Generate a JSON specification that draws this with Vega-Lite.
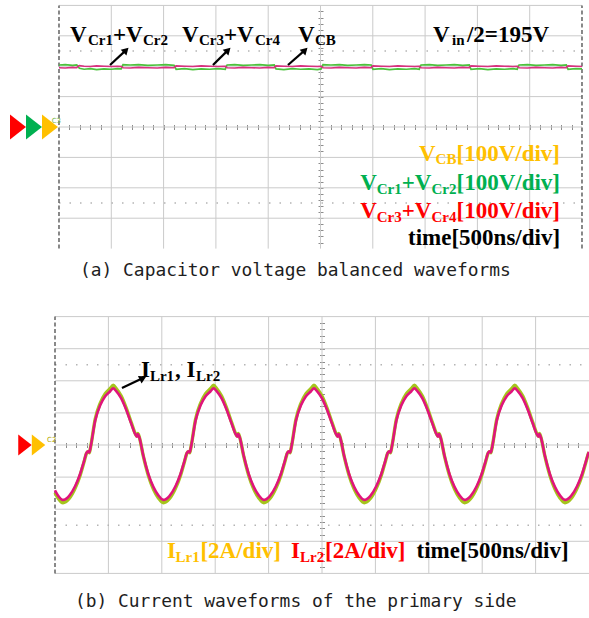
{
"$schema": "https://vega.github.io/schema/vega-lite/v6.json",
"padding": 0,
"spacing": 0,
"bounds": "flush",
"background": "white",
"config": {"view": {"stroke": null}},
"datasets": {
"traceA": [
{"t":0,"vg":204,"vp":195},{"t":60,"vg":205,"vp":194},{"t":130,"vg":203,"vp":196},{"t":170,"vg":204,"vp":195},{"t":182,"vg":199,"vp":200},{"t":195,"vg":193,"vp":202},{"t":240,"vg":190,"vp":200},{"t":300,"vg":192,"vp":199},{"t":360,"vg":189,"vp":201},{"t":430,"vg":191,"vp":200},{"t":500,"vg":190,"vp":199},{"t":560,"vg":192,"vp":200},{"t":595,"vg":191,"vp":199},{"t":602,"vg":198,"vp":198},{"t":612,"vg":205,"vp":195},{"t":680,"vg":204,"vp":194},{"t":760,"vg":205,"vp":196},{"t":850,"vg":203,"vp":195},{"t":940,"vg":204,"vp":194},{"t":1020,"vg":205,"vp":196},{"t":1100,"vg":203,"vp":195},{"t":1109,"vg":197,"vp":199},{"t":1120,"vg":190,"vp":201},{"t":1200,"vg":192,"vp":200},{"t":1280,"vg":189,"vp":199},{"t":1360,"vg":191,"vp":201},{"t":1440,"vg":190,"vp":200},{"t":1520,"vg":192,"vp":199},{"t":1590,"vg":190,"vp":200},{"t":1597,"vg":198,"vp":198},{"t":1607,"vg":204,"vp":195},{"t":1680,"vg":205,"vp":194},{"t":1760,"vg":203,"vp":196},{"t":1840,"vg":204,"vp":195},{"t":1920,"vg":205,"vp":194},{"t":2000,"vg":203,"vp":196},{"t":2058,"vg":204,"vp":195},{"t":2065,"vg":198,"vp":199},{"t":2075,"vg":191,"vp":201},{"t":2150,"vg":189,"vp":200},{"t":2230,"vg":192,"vp":199},{"t":2310,"vg":190,"vp":201},{"t":2390,"vg":191,"vp":200},{"t":2470,"vg":189,"vp":199},{"t":2507,"vg":191,"vp":200},{"t":2514,"vg":198,"vp":198},{"t":2524,"vg":205,"vp":195},{"t":2600,"vg":204,"vp":194},{"t":2680,"vg":205,"vp":196},{"t":2760,"vg":203,"vp":195},{"t":2840,"vg":204,"vp":194},{"t":2920,"vg":205,"vp":196},{"t":2985,"vg":204,"vp":195},{"t":2992,"vg":197,"vp":199},{"t":3002,"vg":190,"vp":201},{"t":3080,"vg":192,"vp":200},{"t":3160,"vg":189,"vp":199},{"t":3240,"vg":191,"vp":201},{"t":3320,"vg":190,"vp":200},{"t":3400,"vg":192,"vp":199},{"t":3444,"vg":190,"vp":200},{"t":3451,"vg":198,"vp":198},{"t":3461,"vg":204,"vp":195},{"t":3540,"vg":205,"vp":194},{"t":3620,"vg":203,"vp":196},{"t":3700,"vg":204,"vp":195},{"t":3780,"vg":205,"vp":194},{"t":3860,"vg":203,"vp":196},{"t":3922,"vg":204,"vp":195},{"t":3929,"vg":197,"vp":199},{"t":3939,"vg":190,"vp":201},{"t":4020,"vg":192,"vp":200},{"t":4100,"vg":189,"vp":199},{"t":4180,"vg":191,"vp":201},{"t":4260,"vg":190,"vp":200},{"t":4340,"vg":192,"vp":199},{"t":4381,"vg":190,"vp":200},{"t":4388,"vg":198,"vp":198},{"t":4398,"vg":204,"vp":195},{"t":4480,"vg":205,"vp":194},{"t":4560,"vg":203,"vp":196},{"t":4640,"vg":204,"vp":195},{"t":4720,"vg":205,"vp":194},{"t":4800,"vg":203,"vp":196},{"t":4850,"vg":204,"vp":195},{"t":4857,"vg":197,"vp":199},{"t":4867,"vg":190,"vp":201},{"t":4940,"vg":192,"vp":200},{"t":5000,"vg":191,"vp":199}
],
"traceB": [
{"t":0,"i1":-2.97,"i2":-2.82},{"t":28,"i1":-3.30,"i2":-3.14},
{"t":75,"i1":-3.60,"i2":-3.42},{"t":131,"i1":-3.35,"i2":-3.18},{"t":188,"i1":-2.70,"i2":-2.57},{"t":235,"i1":-1.90,"i2":-1.81},{"t":272,"i1":-1.05,"i2":-1.00},{"t":296,"i1":-0.50,"i2":-0.48},{"t":310,"i1":-0.42,"i2":-0.40},{"t":321,"i1":-0.48,"i2":-0.46},{"t":334,"i1":-0.10,"i2":-0.10},{"t":376,"i1":1.60,"i2":1.52},{"t":423,"i1":2.60,"i2":2.47},{"t":470,"i1":3.20,"i2":3.04},{"t":517,"i1":3.52,"i2":3.35},{"t":545,"i1":3.72,"i2":3.53},{"t":573,"i1":3.52,"i2":3.35},{"t":620,"i1":3.05,"i2":2.90},{"t":667,"i1":2.30,"i2":2.19},{"t":714,"i1":1.40,"i2":1.33},{"t":752,"i1":0.70,"i2":0.67},{"t":766,"i1":0.55,"i2":0.52},{"t":775,"i1":0.72,"i2":0.68},{"t":789,"i1":0.50,"i2":0.48},{"t":827,"i1":-0.70,"i2":-0.67},{"t":874,"i1":-1.90,"i2":-1.81},{"t":921,"i1":-2.75,"i2":-2.61},{"t":968,"i1":-3.30,"i2":-3.14},
{"t":1015,"i1":-3.60,"i2":-3.42},{"t":1071,"i1":-3.35,"i2":-3.18},{"t":1128,"i1":-2.70,"i2":-2.57},{"t":1175,"i1":-1.90,"i2":-1.81},{"t":1212,"i1":-1.05,"i2":-1.00},{"t":1236,"i1":-0.50,"i2":-0.48},{"t":1250,"i1":-0.42,"i2":-0.40},{"t":1261,"i1":-0.48,"i2":-0.46},{"t":1274,"i1":-0.10,"i2":-0.10},{"t":1316,"i1":1.60,"i2":1.52},{"t":1363,"i1":2.60,"i2":2.47},{"t":1410,"i1":3.20,"i2":3.04},{"t":1457,"i1":3.52,"i2":3.35},{"t":1485,"i1":3.72,"i2":3.53},{"t":1513,"i1":3.52,"i2":3.35},{"t":1560,"i1":3.05,"i2":2.90},{"t":1607,"i1":2.30,"i2":2.19},{"t":1654,"i1":1.40,"i2":1.33},{"t":1692,"i1":0.70,"i2":0.67},{"t":1706,"i1":0.55,"i2":0.52},{"t":1715,"i1":0.72,"i2":0.68},{"t":1729,"i1":0.50,"i2":0.48},{"t":1767,"i1":-0.70,"i2":-0.67},{"t":1814,"i1":-1.90,"i2":-1.81},{"t":1861,"i1":-2.75,"i2":-2.61},{"t":1908,"i1":-3.30,"i2":-3.14},
{"t":1955,"i1":-3.60,"i2":-3.42},{"t":2011,"i1":-3.35,"i2":-3.18},{"t":2068,"i1":-2.70,"i2":-2.57},{"t":2115,"i1":-1.90,"i2":-1.81},{"t":2152,"i1":-1.05,"i2":-1.00},{"t":2176,"i1":-0.50,"i2":-0.48},{"t":2190,"i1":-0.42,"i2":-0.40},{"t":2201,"i1":-0.48,"i2":-0.46},{"t":2214,"i1":-0.10,"i2":-0.10},{"t":2256,"i1":1.60,"i2":1.52},{"t":2303,"i1":2.60,"i2":2.47},{"t":2350,"i1":3.20,"i2":3.04},{"t":2397,"i1":3.52,"i2":3.35},{"t":2425,"i1":3.72,"i2":3.53},{"t":2453,"i1":3.52,"i2":3.35},{"t":2500,"i1":3.05,"i2":2.90},{"t":2547,"i1":2.30,"i2":2.19},{"t":2594,"i1":1.40,"i2":1.33},{"t":2632,"i1":0.70,"i2":0.67},{"t":2646,"i1":0.55,"i2":0.52},{"t":2655,"i1":0.72,"i2":0.68},{"t":2669,"i1":0.50,"i2":0.48},{"t":2707,"i1":-0.70,"i2":-0.67},{"t":2754,"i1":-1.90,"i2":-1.81},{"t":2801,"i1":-2.75,"i2":-2.61},{"t":2848,"i1":-3.30,"i2":-3.14},
{"t":2895,"i1":-3.60,"i2":-3.42},{"t":2951,"i1":-3.35,"i2":-3.18},{"t":3008,"i1":-2.70,"i2":-2.57},{"t":3055,"i1":-1.90,"i2":-1.81},{"t":3092,"i1":-1.05,"i2":-1.00},{"t":3116,"i1":-0.50,"i2":-0.48},{"t":3130,"i1":-0.42,"i2":-0.40},{"t":3141,"i1":-0.48,"i2":-0.46},{"t":3154,"i1":-0.10,"i2":-0.10},{"t":3196,"i1":1.60,"i2":1.52},{"t":3243,"i1":2.60,"i2":2.47},{"t":3290,"i1":3.20,"i2":3.04},{"t":3337,"i1":3.52,"i2":3.35},{"t":3365,"i1":3.72,"i2":3.53},{"t":3393,"i1":3.52,"i2":3.35},{"t":3440,"i1":3.05,"i2":2.90},{"t":3487,"i1":2.30,"i2":2.19},{"t":3534,"i1":1.40,"i2":1.33},{"t":3572,"i1":0.70,"i2":0.67},{"t":3586,"i1":0.55,"i2":0.52},{"t":3595,"i1":0.72,"i2":0.68},{"t":3609,"i1":0.50,"i2":0.48},{"t":3647,"i1":-0.70,"i2":-0.67},{"t":3694,"i1":-1.90,"i2":-1.81},{"t":3741,"i1":-2.75,"i2":-2.61},{"t":3788,"i1":-3.30,"i2":-3.14},
{"t":3835,"i1":-3.60,"i2":-3.42},{"t":3891,"i1":-3.35,"i2":-3.18},{"t":3948,"i1":-2.70,"i2":-2.57},{"t":3995,"i1":-1.90,"i2":-1.81},{"t":4032,"i1":-1.05,"i2":-1.00},{"t":4056,"i1":-0.50,"i2":-0.48},{"t":4070,"i1":-0.42,"i2":-0.40},{"t":4081,"i1":-0.48,"i2":-0.46},{"t":4094,"i1":-0.10,"i2":-0.10},{"t":4136,"i1":1.60,"i2":1.52},{"t":4183,"i1":2.60,"i2":2.47},{"t":4230,"i1":3.20,"i2":3.04},{"t":4277,"i1":3.52,"i2":3.35},{"t":4305,"i1":3.72,"i2":3.53},{"t":4333,"i1":3.52,"i2":3.35},{"t":4380,"i1":3.05,"i2":2.90},{"t":4427,"i1":2.30,"i2":2.19},{"t":4474,"i1":1.40,"i2":1.33},{"t":4512,"i1":0.70,"i2":0.67},{"t":4526,"i1":0.55,"i2":0.52},{"t":4535,"i1":0.72,"i2":0.68},{"t":4549,"i1":0.50,"i2":0.48},{"t":4587,"i1":-0.70,"i2":-0.67},{"t":4634,"i1":-1.90,"i2":-1.81},{"t":4681,"i1":-2.75,"i2":-2.61},{"t":4728,"i1":-3.30,"i2":-3.14},
{"t":4775,"i1":-3.60,"i2":-3.42},{"t":4831,"i1":-3.35,"i2":-3.18},{"t":4888,"i1":-2.70,"i2":-2.57},{"t":4935,"i1":-1.90,"i2":-1.81},{"t":4972,"i1":-1.05,"i2":-1.00},{"t":4996,"i1":-0.50,"i2":-0.48},{"t":5000,"i1":-0.45,"i2":-0.43}
],
"textA": [
{"t":105,"v":281,"txt":"V","c":"k","p":"m"},
{"t":277,"v":270,"txt":"Cr1","c":"k","p":"s"},
{"t":516,"v":281,"txt":"+V","c":"k","p":"m"},
{"t":803,"v":270,"txt":"Cr2","c":"k","p":"s"},
{"t":1176,"v":281,"txt":"V","c":"k","p":"m"},
{"t":1338,"v":270,"txt":"Cr3","c":"k","p":"s"},
{"t":1577,"v":281,"txt":"+V","c":"k","p":"m"},
{"t":1874,"v":270,"txt":"Cr4","c":"k","p":"s"},
{"t":2285,"v":281,"txt":"V","c":"k","p":"m"},
{"t":2447,"v":270,"txt":"CB","c":"k","p":"s"},
{"t":3576,"v":281,"txt":"V","c":"k","p":"m"},
{"t":3757,"v":270,"txt":"in","c":"k","p":"s"},
{"t":3900,"v":281,"txt":"/2=195V","c":"k","p":"m"},
{"t":3442,"v":-112,"txt":"V","c":"y","p":"m"},
{"t":3600,"v":-123,"txt":"CB","c":"y","p":"s"},
{"t":3800,"v":-112,"txt":"[100V/div]","c":"y","p":"m"},
{"t":2879,"v":-207,"txt":"V","c":"g","p":"m"},
{"t":3038,"v":-219,"txt":"Cr1","c":"g","p":"s"},
{"t":3277,"v":-207,"txt":"+V","c":"g","p":"m"},
{"t":3561,"v":-219,"txt":"Cr2","c":"g","p":"s"},
{"t":3800,"v":-207,"txt":"[100V/div]","c":"g","p":"m"},
{"t":2879,"v":-299,"txt":"V","c":"r","p":"m"},
{"t":3038,"v":-311,"txt":"Cr3","c":"r","p":"s"},
{"t":3277,"v":-299,"txt":"+V","c":"r","p":"m"},
{"t":3561,"v":-311,"txt":"Cr4","c":"r","p":"s"},
{"t":3800,"v":-299,"txt":"[100V/div]","c":"r","p":"m"},
{"t":3337,"v":-388,"txt":"time[500ns/div]","c":"k","p":"m"}
],
"textB": [
{"t":805,"v":4.24,"txt":"I","c":"k","p":"m"},
{"t":889,"v":3.99,"txt":"Lr1","c":"k","p":"s"},
{"t":1124,"v":4.24,"txt":", I","c":"k","p":"m"},
{"t":1320,"v":3.99,"txt":"Lr2","c":"k","p":"s"},
{"t":1049,"v":-7.04,"txt":"I","c":"y","p":"m"},
{"t":1128,"v":-7.26,"txt":"Lr1","c":"y","p":"s"},
{"t":1362,"v":-7.04,"txt":"[2A/div]","c":"y","p":"m"},
{"t":2210,"v":-7.04,"txt":"I","c":"r","p":"m"},
{"t":2294,"v":-7.26,"txt":"Lr2","c":"r","p":"s"},
{"t":2528,"v":-7.04,"txt":"[2A/div]","c":"r","p":"m"},
{"t":3385,"v":-7.04,"txt":"time[500ns/div]","c":"k","p":"m"}
]
},
"vconcat": [
{
"width": 589, "height": 300,
"resolve": {"axis": {"x": "independent", "y": "independent"}},
"encoding": {
 "x": {"field": "t", "type": "quantitative", "scale": {"domain": [-564, 5067], "nice": false, "zero": false}, "axis": null},
 "y": {"field": "v", "type": "quantitative", "scale": {"domain": [-569.1, 417.8], "nice": false, "zero": false}, "axis": null}
},
"layer": [
 {"data": {"values": [{"t":500,"v":-400,"v2":400},{"t":1000,"v":-400,"v2":400},{"t":1500,"v":-400,"v2":400},{"t":2000,"v":-400,"v2":400},{"t":2500,"v":-400,"v2":400},{"t":3000,"v":-400,"v2":400},{"t":3500,"v":-400,"v2":400},{"t":4000,"v":-400,"v2":400},{"t":4500,"v":-400,"v2":400}]},
  "mark": {"type": "rule", "color": "#cacaca", "strokeWidth": 1},
  "encoding": {"y2": {"field": "v2"}}},
 {"data": {"values": [{"t":0,"t2":5000,"v":-300},{"t":0,"t2":5000,"v":-200},{"t":0,"t2":5000,"v":-100},{"t":0,"t2":5000,"v":0},{"t":0,"t2":5000,"v":100},{"t":0,"t2":5000,"v":200},{"t":0,"t2":5000,"v":300},{"t":0,"t2":5000,"v":400}]},
  "mark": {"type": "rule", "color": "#cacaca", "strokeWidth": 1},
  "encoding": {"x2": {"field": "t2"}}},
 {"data": {"values": [{"t":0,"t2":5000,"v":250},{"t":0,"t2":5000,"v":-250}]},
  "mark": {"type": "rule", "color": "#b4b4b4", "strokeWidth": 1.5, "strokeDash": [1.5, 9]},
  "encoding": {"x2": {"field": "t2"}}},
 {"data": {"values": [{"t":0,"v":-400,"v2":400},{"t":5000,"v":-400,"v2":400}]},
  "mark": {"type": "rule", "color": "#4a4a4a", "strokeWidth": 1.3, "strokeDash": [4, 2.5]},
  "encoding": {"y2": {"field": "v2"}}},
 {"data": {"values": [{"t":2500,"v":0}]},
  "mark": {"type": "point", "opacity": 0},
  "encoding": {
   "x": {"field": "t", "type": "quantitative", "scale": {"domain": [-564, 5067], "nice": false, "zero": false},
         "axis": {"orient": "top", "offset": -129.5, "values": [100,200,300,400,500,600,700,800,900,1000,1100,1200,1300,1400,1500,1600,1700,1800,1900,2000,2100,2200,2300,2400,2500,2600,2700,2800,2900,3000,3100,3200,3300,3400,3500,3600,3700,3800,3900,4000,4100,4200,4300,4400,4500,4600,4700,4800,4900], "labels": false, "domain": false, "grid": false, "title": null, "tickSize": 5, "tickColor": "#8c8c8c", "tickWidth": 1}},
   "y": {"field": "v", "type": "quantitative", "scale": {"domain": [-569.1, 417.8], "nice": false, "zero": false},
         "axis": {"orient": "left", "offset": -323, "values": [-380,-360,-340,-320,-300,-280,-260,-240,-220,-200,-180,-160,-140,-120,-100,-80,-60,-40,-20,0,20,40,60,80,100,120,140,160,180,200,220,240,260,280,300,320,340,360,380], "labels": false, "domain": false, "grid": false, "title": null, "tickSize": 5, "tickColor": "#8c8c8c", "tickWidth": 1}}
  }},
 {"data": {"name": "traceA"},
  "transform": [{"fold": ["vg", "vp"], "as": ["s", "v"]}, {"filter": {"field": "s", "equal": "vg"}}],
  "mark": {"type": "line", "color": "#4cc23c", "strokeWidth": 1.7}},
 {"data": {"name": "traceA"},
  "transform": [{"fold": ["vg", "vp"], "as": ["s", "v"]}, {"filter": {"field": "s", "equal": "vp"}}],
  "mark": {"type": "line", "color": "#d8307f", "strokeWidth": 1.6}},
 {"data": {"values": [{"t":488,"v":204,"t2":641,"v2":253},{"t":1472,"v":204,"t2":1616,"v2":253},{"t":2189,"v":204,"t2":2352,"v2":253}]},
  "mark": {"type": "rule", "color": "#000000", "strokeWidth": 2.2},
  "encoding": {"x2": {"field": "t2"}, "y2": {"field": "v2"}}},
 {"data": {"values": [{"t":641,"v":253},{"t":1616,"v":253},{"t":2352,"v":253}]},
  "mark": {"type": "point", "shape": "triangle-up", "angle": 45, "size": 65, "filled": true, "opacity": 1, "color": "#000000"}},
 {"data": {"values": [{"t":-392,"v":0,"c":"r"},{"t":-239,"v":0,"c":"g"},{"t":-86,"v":0,"c":"y"}]},
  "mark": {"type": "point", "shape": "M-0.64,-1L0.64,0L-0.64,1Z", "size": 625, "filled": true, "opacity": 1, "strokeWidth": 0},
  "encoding": {"color": {"field": "c", "type": "nominal", "scale": {"domain": ["k","y","g","r"], "range": ["#000000","#ffc000","#00b050","#ff0000"]}, "legend": null}}},
 {"data": {"name": "textA"},
  "transform": [{"filter": {"field": "p", "equal": "m"}}],
  "mark": {"type": "text", "font": "Liberation Serif", "fontWeight": "bold", "fontSize": 23, "align": "left", "baseline": "alphabetic"},
  "encoding": {"text": {"field": "txt"}, "color": {"field": "c", "type": "nominal", "scale": {"domain": ["k","y","g","r"], "range": ["#000000","#ffc000","#00b050","#ff0000"]}, "legend": null}}},
 {"data": {"name": "textA"},
  "transform": [{"filter": {"field": "p", "equal": "s"}}],
  "mark": {"type": "text", "font": "Liberation Serif", "fontWeight": "bold", "fontSize": 15, "align": "left", "baseline": "alphabetic"},
  "encoding": {"text": {"field": "txt"}, "color": {"field": "c", "type": "nominal", "scale": {"domain": ["k","y","g","r"], "range": ["#000000","#ffc000","#00b050","#ff0000"]}, "legend": null}}},
 {"data": {"values": [{"t":-70,"v":12,"txt":"C3"}]},
  "mark": {"type": "text", "font": "DejaVu Sans", "fontSize": 7, "align": "left", "baseline": "alphabetic", "color": "#7ab648"},
  "encoding": {"text": {"field": "txt"}}},
 {"data": {"values": [{"t":201,"v":-490,"txt":"(a) Capacitor voltage balanced waveforms"}]},
  "mark": {"type": "text", "font": "DejaVu Sans Mono", "fontSize": 17.9, "align": "left", "baseline": "alphabetic", "color": "#1e1e1e"},
  "encoding": {"text": {"field": "txt"}}}
]
},
{
"width": 589, "height": 318,
"resolve": {"axis": {"x": "independent", "y": "independent"}},
"encoding": {
 "x": {"field": "t", "type": "quantitative", "scale": {"domain": [-515, 5000], "nice": false, "zero": false}, "axis": null},
 "y": {"field": "v", "type": "quantitative", "scale": {"domain": [-10.779, 9.034], "nice": false, "zero": false}, "axis": null}
},
"layer": [
 {"data": {"values": [{"t":500,"v":-8,"v2":8},{"t":1000,"v":-8,"v2":8},{"t":1500,"v":-8,"v2":8},{"t":2000,"v":-8,"v2":8},{"t":2500,"v":-8,"v2":8},{"t":3000,"v":-8,"v2":8},{"t":3500,"v":-8,"v2":8},{"t":4000,"v":-8,"v2":8},{"t":4500,"v":-8,"v2":8}]},
  "mark": {"type": "rule", "color": "#cacaca", "strokeWidth": 1},
  "encoding": {"y2": {"field": "v2"}}},
 {"data": {"values": [{"t":0,"t2":5000,"v":-8},{"t":0,"t2":5000,"v":-6},{"t":0,"t2":5000,"v":-4},{"t":0,"t2":5000,"v":-2},{"t":0,"t2":5000,"v":0},{"t":0,"t2":5000,"v":2},{"t":0,"t2":5000,"v":4},{"t":0,"t2":5000,"v":6},{"t":0,"t2":5000,"v":8}]},
  "mark": {"type": "rule", "color": "#cacaca", "strokeWidth": 1},
  "encoding": {"x2": {"field": "t2"}}},
 {"data": {"values": [{"t":0,"t2":5000,"v":5},{"t":0,"t2":5000,"v":-5}]},
  "mark": {"type": "rule", "color": "#b4b4b4", "strokeWidth": 1.5, "strokeDash": [1.5, 9]},
  "encoding": {"x2": {"field": "t2"}}},
 {"data": {"values": [{"t":0,"v":-8,"v2":8}]},
  "mark": {"type": "rule", "color": "#4a4a4a", "strokeWidth": 1.3, "strokeDash": [4, 2.5]},
  "encoding": {"y2": {"field": "v2"}}},
 {"data": {"values": [{"t":2500,"v":0}]},
  "mark": {"type": "point", "opacity": 0},
  "encoding": {
   "x": {"field": "t", "type": "quantitative", "scale": {"domain": [-515, 5000], "nice": false, "zero": false},
         "axis": {"orient": "top", "offset": -147.5, "values": [100,200,300,400,500,600,700,800,900,1000,1100,1200,1300,1400,1500,1600,1700,1800,1900,2000,2100,2200,2300,2400,2500,2600,2700,2800,2900,3000,3100,3200,3300,3400,3500,3600,3700,3800,3900,4000,4100,4200,4300,4400,4500,4600,4700,4800,4900], "labels": false, "domain": false, "grid": false, "title": null, "tickSize": 5, "tickColor": "#8c8c8c", "tickWidth": 1}},
   "y": {"field": "v", "type": "quantitative", "scale": {"domain": [-10.779, 9.034], "nice": false, "zero": false},
         "axis": {"orient": "left", "offset": -324.5, "values": [-7.6,-7.2,-6.8,-6.4,-6,-5.6,-5.2,-4.8,-4.4,-4,-3.6,-3.2,-2.8,-2.4,-2,-1.6,-1.2,-0.8,-0.4,0,0.4,0.8,1.2,1.6,2,2.4,2.8,3.2,3.6,4,4.4,4.8,5.2,5.6,6,6.4,6.8,7.2,7.6], "labels": false, "domain": false, "grid": false, "title": null, "tickSize": 5, "tickColor": "#8c8c8c", "tickWidth": 1}}
  }},
 {"data": {"name": "traceB"},
  "transform": [{"fold": ["i1", "i2"], "as": ["s", "v"]}, {"filter": {"field": "s", "equal": "i1"}}],
  "mark": {"type": "line", "color": "#a5c41c", "strokeWidth": 3.4, "interpolate": "monotone"}},
 {"data": {"name": "traceB"},
  "transform": [{"fold": ["i1", "i2"], "as": ["s", "v"]}, {"filter": {"field": "s", "equal": "i2"}}],
  "mark": {"type": "line", "color": "#e0147c", "strokeWidth": 2.6, "interpolate": "monotone"}},
 {"data": {"values": [{"t":627,"v":3.55,"t2":824,"v2":4.17}]},
  "mark": {"type": "rule", "color": "#000000", "strokeWidth": 2.2},
  "encoding": {"x2": {"field": "t2"}, "y2": {"field": "v2"}}},
 {"data": {"values": [{"t":824,"v":4.17}]},
  "mark": {"type": "point", "shape": "triangle-up", "angle": 64, "size": 70, "filled": true, "opacity": 1, "color": "#000000"}},
 {"data": {"values": [{"t":-281,"v":0,"c":"r"},{"t":-154,"v":0,"c":"y"}]},
  "mark": {"type": "point", "shape": "M-0.64,-1L0.64,0L-0.64,1Z", "size": 441, "filled": true, "opacity": 1, "strokeWidth": 0},
  "encoding": {"color": {"field": "c", "type": "nominal", "scale": {"domain": ["k","y","g","r"], "range": ["#000000","#ffc000","#00b050","#ff0000"]}, "legend": null}}},
 {"data": {"name": "textB"},
  "transform": [{"filter": {"field": "p", "equal": "m"}}],
  "mark": {"type": "text", "font": "Liberation Serif", "fontWeight": "bold", "fontSize": 23, "align": "left", "baseline": "alphabetic"},
  "encoding": {"text": {"field": "txt"}, "color": {"field": "c", "type": "nominal", "scale": {"domain": ["k","y","g","r"], "range": ["#000000","#ffc000","#00b050","#ff0000"]}, "legend": null}}},
 {"data": {"name": "textB"},
  "transform": [{"filter": {"field": "p", "equal": "s"}}],
  "mark": {"type": "text", "font": "Liberation Serif", "fontWeight": "bold", "fontSize": 15, "align": "left", "baseline": "alphabetic"},
  "encoding": {"text": {"field": "txt"}, "color": {"field": "c", "type": "nominal", "scale": {"domain": ["k","y","g","r"], "range": ["#000000","#ffc000","#00b050","#ff0000"]}, "legend": null}}},
 {"data": {"values": [{"t":-75,"v":0.2,"txt":"C2"}]},
  "mark": {"type": "text", "font": "DejaVu Sans", "fontSize": 7, "align": "left", "baseline": "alphabetic", "color": "#b5a800"},
  "encoding": {"text": {"field": "txt"}}},
 {"data": {"values": [{"t":187,"v":-10.12,"txt":"(b) Current waveforms of the primary side"}]},
  "mark": {"type": "text", "font": "DejaVu Sans Mono", "fontSize": 17.9, "align": "left", "baseline": "alphabetic", "color": "#1e1e1e"},
  "encoding": {"text": {"field": "txt"}}}
]
}
]
}
